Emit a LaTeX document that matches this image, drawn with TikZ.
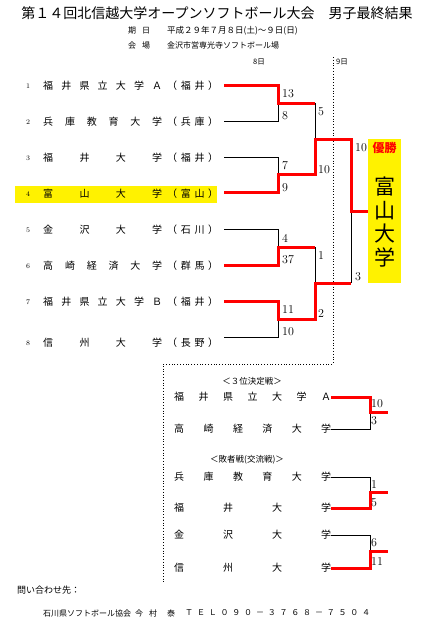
\documentclass[tikz,border=0pt]{standalone}
\usepackage{fontspec}
\newfontfamily\jp{Noto Sans CJK JP}
\newcommand{\jpsize}[1]{\jp\fontsize{#1}{#1}\selectfont}
\begin{document}
\begin{tikzpicture}[x=1pt,y=-1pt,line join=miter,
    win/.style={draw=red,line width=3pt},
    lose/.style={draw=black,line width=0.8pt},
    team/.style={anchor=west,inner sep=0pt,font=\jpsize{10}},
    pts/.style={anchor=west,inner sep=0pt,font=\fontsize{12}{12}\selectfont},
    seed/.style={inner sep=0pt,font=\fontsize{7}{7}\selectfont},
    info/.style={anchor=west,inner sep=0pt,font=\jpsize{8}}]
  \useasboundingbox (0,0) rectangle (430,627);
  % heading
  \node[font=\jpsize{14}] (title) at (217,13) {第１４回北信越大学オープンソフトボール大会　男子最終結果};
  \node[info] (dlab) at (128,31) {\makebox[22pt][s]{期\hfill 日}};
  \node[info,font=\jpsize{8.5}] (date) at (167,31) {平成２９年７月８日(土)～９日(日)};
  \node[info] (plab) at (128,45) {\makebox[22pt][s]{会\hfill 場}};
  \node[info] (place) at (167,45) {金沢市営専光寺ソフトボール場};
  \node[font=\jpsize{7.5}] (day8) at (259,62) {8日};
  \node[info,font=\jpsize{7.5}] (day9) at (336,62) {9日};
  \draw[line width=0.8pt,dash pattern=on 0.8pt off 2pt] (333,57) -- (333,364) -- (163,364) -- (163,583);

  % teams
  \fill[yellow] (15,186) rectangle (217,203);
  \node[seed] (n1) at (28,86) {1};
  \node[seed] (n2) at (28,122) {2};
  \node[seed] (n3) at (28,158) {3};
  \node[seed] (n4) at (28,194) {4};
  \node[seed] (n5) at (28,230) {5};
  \node[seed] (n6) at (28,266) {6};
  \node[seed] (n7) at (28,302) {7};
  \node[seed] (n8) at (28,343) {8};
  \node[team] (t1) at (43,86) {\makebox[119pt][s]{福\hfill 井\hfill 県\hfill 立\hfill 大\hfill 学\hfill Ａ}\hspace{5pt}\makebox[51pt][s]{（\hfill 福\hfill 井\hfill ）}};
  \node[team] (t2) at (43,122) {\makebox[119pt][s]{兵\hfill 庫\hfill 教\hfill 育\hfill 大\hfill 学}\hspace{5pt}\makebox[51pt][s]{（\hfill 兵\hfill 庫\hfill ）}};
  \node[team] (t3) at (43,158) {\makebox[119pt][s]{福\hfill 井\hfill 大\hfill 学}\hspace{5pt}\makebox[51pt][s]{（\hfill 福\hfill 井\hfill ）}};
  \node[team] (t4) at (43,194) {\makebox[119pt][s]{富\hfill 山\hfill 大\hfill 学}\hspace{5pt}\makebox[51pt][s]{（\hfill 富\hfill 山\hfill ）}};
  \node[team] (t5) at (43,230) {\makebox[119pt][s]{金\hfill 沢\hfill 大\hfill 学}\hspace{5pt}\makebox[51pt][s]{（\hfill 石\hfill 川\hfill ）}};
  \node[team] (t6) at (43,266) {\makebox[119pt][s]{高\hfill 崎\hfill 経\hfill 済\hfill 大\hfill 学}\hspace{5pt}\makebox[51pt][s]{（\hfill 群\hfill 馬\hfill ）}};
  \node[team] (t7) at (43,302) {\makebox[119pt][s]{福\hfill 井\hfill 県\hfill 立\hfill 大\hfill 学\hfill Ｂ}\hspace{5pt}\makebox[51pt][s]{（\hfill 福\hfill 井\hfill ）}};
  \node[team] (t8) at (43,343) {\makebox[119pt][s]{信\hfill 州\hfill 大\hfill 学}\hspace{5pt}\makebox[51pt][s]{（\hfill 長\hfill 野\hfill ）}};

  % bracket
  \coordinate (a1) at (224,85);
  \coordinate (a2) at (224,121);
  \coordinate (a3) at (224,157);
  \coordinate (a4) at (224,192);
  \coordinate (a5) at (224,229);
  \coordinate (a6) at (224,265);
  \coordinate (a7) at (224,301);
  \coordinate (a8) at (224,337);
  \coordinate (m12) at (278,103);
  \coordinate (m34) at (278,174);
  \coordinate (m56) at (278,247);
  \coordinate (m78) at (278,319);
  \coordinate (s1) at (315,139);
  \coordinate (s2) at (315,283);
  \coordinate (fin) at (351,211);
  \node[fill=yellow,minimum width=33pt,minimum height=144pt,inner sep=0pt] (champ) at (384.5,211) {};
  \draw[lose] (a2) -| (m12);
  \draw[lose] (a3) -| (m34);
  \draw[lose] (a5) -| (m56);
  \draw[lose] (a8) -| (m78);
  \draw[lose] (m12 -| s1) -- (s1);
  \draw[lose] (m56 -| s2) -- (s2);
  \draw[lose] (s2 -| fin) -- (fin);
  \draw[win] (a1) -| (m12) -- (m12 -| s1);
  \draw[win] (a4) -| (m34) -- (m34 -| s1) -- (s1) -| (fin) -- (champ.west);
  \draw[win] (a6) -| (m56) -- (m56 -| s2);
  \draw[win] (a7) -| (m78) -- (m78 -| s2) -- (s2) -- (s2 -| fin);
  \node[pts] (q1) at (282,94) {13};
  \node[pts] (q2) at (282,116) {8};
  \node[pts] (q3) at (282,166) {7};
  \node[pts] (q4) at (282,188) {9};
  \node[pts] (q5) at (282,238) {4};
  \node[pts] (q6) at (282,260) {37};
  \node[pts] (q7) at (282,310) {11};
  \node[pts] (q8) at (282,332) {10};
  \node[pts] (q9) at (318,112) {5};
  \node[pts] (q10) at (318,170) {10};
  \node[pts] (q11) at (318,256) {1};
  \node[pts] (q12) at (318,314) {2};
  \node[pts] (q13) at (355,148) {10};
  \node[pts] (q14) at (355,277) {3};
  \node[text=red,font=\jpsize{12}\bfseries] (yusho) at (384.5,148) {優勝};
  \node[align=center,inner sep=0pt,font=\jp\fontsize{21}{23.5}\selectfont] (champname) at (384.5,222) {富\\山\\大\\学};

  % third place and consolation
  \node[font=\jpsize{8.5}] (third) at (252,381) {＜３位決定戦＞};
  \node[font=\jpsize{8.5}] (cons) at (247,460) {＜敗者戦(交流戦)＞};
  \node[team] (l1) at (174,397) {\makebox[157pt][s]{福\hfill 井\hfill 県\hfill 立\hfill 大\hfill 学\hfill Ａ}};
  \node[team] (l2) at (174,429) {\makebox[157pt][s]{高\hfill 崎\hfill 経\hfill 済\hfill 大\hfill 学}};
  \node[team] (l3) at (174,477) {\makebox[157pt][s]{兵\hfill 庫\hfill 教\hfill 育\hfill 大\hfill 学}};
  \node[team] (l4) at (174,508) {\makebox[157pt][s]{福\hfill 井\hfill 大\hfill 学}};
  \node[team] (l5) at (174,535) {\makebox[157pt][s]{金\hfill 沢\hfill 大\hfill 学}};
  \node[team] (l6) at (174,568) {\makebox[157pt][s]{信\hfill 州\hfill 大\hfill 学}};
  \coordinate (j1) at (370,412);
  \coordinate (j2) at (370,492);
  \coordinate (j3) at (370,551);
  \coordinate (e1) at (388,412);
  \coordinate (e2) at (388,492);
  \coordinate (e3) at (388,551);
  \draw[lose] (l2.east) -| (j1);
  \draw[lose] (l3.east) -| (j2);
  \draw[lose] (l5.east) -| (j3);
  \draw[win] (l1.east) -| (j1) -- (e1);
  \draw[win] (l4.east) -| (j2) -- (e2);
  \draw[win] (l6.east) -| (j3) -- (e3);
  \node[pts] (q15) at (371,404) {10};
  \node[pts] (q16) at (371,421) {3};
  \node[pts] (q17) at (371,485) {1};
  \node[pts] (q18) at (371,503) {5};
  \node[pts] (q19) at (371,543) {6};
  \node[pts] (q20) at (371,562) {11};

  % contact
  \node[info,font=\jpsize{9}] (ask) at (17,590) {問い合わせ先：};
  \node[info] (assoc) at (43,613) {石川県ソフトボール協会};
  \node[info] (who) at (135,613) {\makebox[22pt][s]{今\hfill 村}};
  \node[info] (who2) at (167,613) {泰};
  \node[info] (tel) at (185,613) {\makebox[185pt][s]{Ｔ\hfill Ｅ\hfill Ｌ\hfill ０\hfill ９\hfill ０\hfill －\hfill ３\hfill ７\hfill ６\hfill ８\hfill －\hfill ７\hfill ５\hfill ０\hfill ４}};
\end{tikzpicture}
\end{document}
